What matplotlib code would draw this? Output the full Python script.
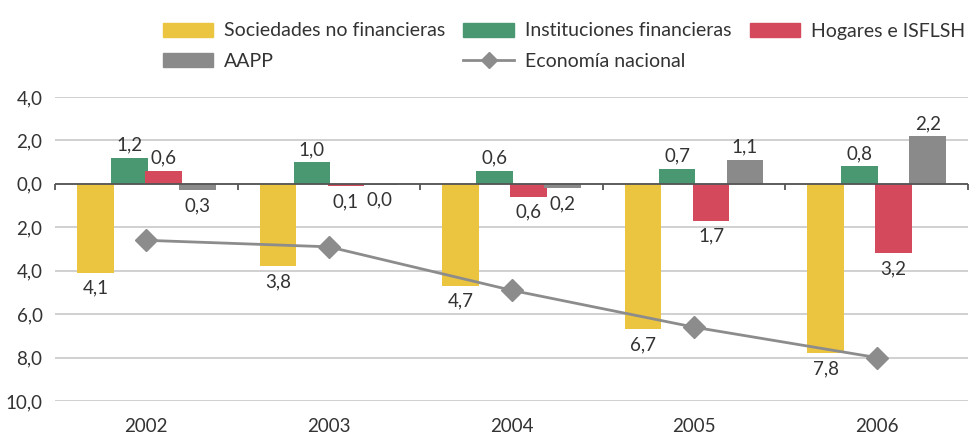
import matplotlib
matplotlib.use("Agg")
import matplotlib.pyplot as plt
from matplotlib.ticker import FuncFormatter
from matplotlib.lines import Line2D
from matplotlib.patches import Patch
import numpy as np

years = ["2002", "2003", "2004", "2005", "2006"]
series_names = ["Sociedades no financieras", "Instituciones financieras", "Hogares e ISFLSH", "AAPP"]
soc = [-4.1, -3.8, -4.7, -6.7, -7.8]
inst = [1.2, 1.0, 0.6, 0.7, 0.8]
hog = [0.6, -0.1, -0.6, -1.7, -3.2]
aapp = [-0.3, -0.04, -0.2, 1.1, 2.2]
eco_name = "Economía nacional"
eco = [-2.6, -2.9, -4.9, -6.6, -8.0]
yticks = [4, 2, 0, -2, -4, -6, -8, -10]

colors = ["#EBC440", "#4A9872", "#D4495B", "#8A8A8A"]
line_color = "#8C8C8C"
text_color = "#333333"

plt.rcParams['font.family'] = ['Lato', 'DejaVu Sans']
FS = 13.5

fig = plt.figure(figsize=(9.71, 4.37), dpi=100)
ax = fig.add_axes([55/971, 1-401/437, (968-55)/971, (401-97)/437])

x = np.arange(len(years))
spacing = 0.186
width = 0.2
all_series = [soc, inst, hog, aapp]
for i, (vals, col) in enumerate(zip(all_series, colors)):
    pos = x + (i - 1.5) * spacing
    ax.bar(pos, vals, width=width, color=col, zorder=3)
    for px, v in zip(pos, vals):
        lab = f"{abs(v):.1f}".replace(".", ",")
        if v >= 0:
            ax.annotate(lab, (px, v), xytext=(0, 3), textcoords="offset points",
                        ha="center", va="bottom", fontsize=FS, color=text_color, zorder=5)
        else:
            ax.annotate(lab, (px, v), xytext=(0, -5), textcoords="offset points",
                        ha="center", va="top", fontsize=FS, color=text_color, zorder=5)

ax.plot(x, eco, color=line_color, lw=2, marker="D", markersize=11, zorder=4)

ax.set_xlim(-0.5, len(years) - 0.5)
ax.set_ylim(-10, 4)
ax.set_yticks(yticks)
ax.yaxis.set_major_formatter(FuncFormatter(lambda v, p: f"{abs(v):.1f}".replace(".", ",")))
ax.set_xticks(x)
ax.set_xticklabels(years)
ax.tick_params(axis="both", length=0, labelsize=FS, colors=text_color)
ax.tick_params(axis="y", pad=9)
ax.tick_params(axis="x", pad=12)
ax.grid(axis="y", color="#C8C8C8", lw=1.2, zorder=0)
for s in ax.spines.values():
    s.set_visible(False)
ax.axhline(0, color="#555555", lw=1.3, zorder=3.5)
ax.vlines(np.arange(len(years) + 1) - 0.5, -0.28, 0, color="#555555", lw=1.3, zorder=3.5, clip_on=False)

handles = [Patch(color=colors[0]), Patch(color=colors[3]), Patch(color=colors[1]),
           Line2D([], [], color=line_color, lw=2, marker="D", markersize=8), Patch(color=colors[2])]
labels = [series_names[0], series_names[3], series_names[1], eco_name, series_names[2]]
fig.legend(handles, labels, ncol=3, loc="upper left", bbox_to_anchor=(145/971, 1 - 5/437),
           frameon=False, fontsize=14, handlelength=2.6, handleheight=0.75,
           columnspacing=0.95, handletextpad=0.55, labelspacing=0.7, labelcolor=text_color)

fig.savefig("out.png", dpi=100)
